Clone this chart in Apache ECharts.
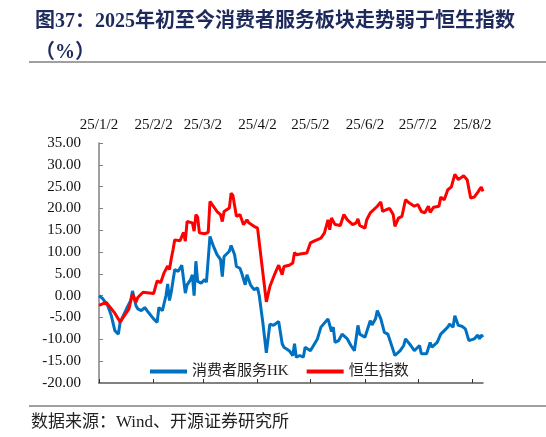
<!DOCTYPE html>
<html>
<head>
<meta charset="utf-8">
<script src="https://cdn.jsdelivr.net/npm/echarts@6.0.0/dist/echarts.min.js"></script>
<style>
html, body { margin: 0; padding: 0; background: #fff; }
#chart { width: 546px; height: 437px; }
</style>
</head>
<body>
<div id="chart"></div>
<script>
// 恒生指数
const hsiDates = ['2025-01-02', '2025-01-06', '2025-01-11', '2025-01-14', '2025-01-17', '2025-01-19', '2025-01-21', '2025-01-23', '2025-01-24', '2025-01-27',
    '2025-02-02', '2025-02-03', '2025-02-04', '2025-02-06', '2025-02-08', '2025-02-10', '2025-02-11', '2025-02-12', '2025-02-13', '2025-02-14',
    '2025-02-17', '2025-02-19', '2025-02-20', '2025-02-21', '2025-02-24', '2025-02-25', '2025-02-26', '2025-02-27', '2025-02-28', '2025-03-03',
    '2025-03-05', '2025-03-06', '2025-03-10', '2025-03-12', '2025-03-13', '2025-03-14', '2025-03-17', '2025-03-18', '2025-03-19', '2025-03-21',
    '2025-03-23', '2025-03-24', '2025-03-25', '2025-03-27', '2025-03-28', '2025-03-31', '2025-04-02', '2025-04-03', '2025-04-07', '2025-04-09',
    '2025-04-12', '2025-04-14', '2025-04-16', '2025-04-17', '2025-04-20', '2025-04-22', '2025-04-23', '2025-04-24', '2025-04-27', '2025-04-30',
    '2025-05-02', '2025-05-05', '2025-05-08', '2025-05-10', '2025-05-12', '2025-05-13', '2025-05-14', '2025-05-16', '2025-05-19', '2025-05-21',
    '2025-05-23', '2025-05-26', '2025-05-28', '2025-05-29', '2025-05-30', '2025-06-02', '2025-06-03', '2025-06-05', '2025-06-06', '2025-06-09',
    '2025-06-11', '2025-06-12', '2025-06-14', '2025-06-16', '2025-06-18', '2025-06-19', '2025-06-21', '2025-06-23', '2025-06-25', '2025-06-27',
    '2025-06-30', '2025-07-02', '2025-07-04', '2025-07-06', '2025-07-08', '2025-07-09', '2025-07-11', '2025-07-14', '2025-07-15', '2025-07-17',
    '2025-07-19', '2025-07-21', '2025-07-23', '2025-07-25', '2025-07-28', '2025-07-30', '2025-08-01', '2025-08-03', '2025-08-05', '2025-08-06',
    '2025-08-07', '2025-08-08']
const hsiValues = [-2.2, -1.5, -4.0, -6.0, -4.2, -3.0, 0.4, -1.5, -0.4, 0.8,
    0.5, 0.8, 3.4, 3.0, 5.3, 6.8, 6.0, 8.4, 10.5, 12.8,
    12.6, 14.5, 12.5, 17.0, 16.7, 14.8, 18.6, 18.0, 14.4, 14.2,
    14.5, 21.6, 19.3, 18.6, 17.0, 19.3, 20.1, 23.5, 23.0, 18.2,
    18.6, 19.0, 16.3, 17.4, 16.7, 15.9, 15.5, 15.1, -1.4, 2.1,
    5.2, 7.0, 4.8, 6.7, 7.0, 7.5, 9.9, 9.4, 9.6, 9.8,
    12.1, 12.7, 13.2, 14.4, 17.4, 15.1, 17.8, 16.3, 16.1, 18.6,
    17.4, 16.3, 16.7, 17.6, 16.1, 15.5, 17.4, 19.0, 18.6, 20.5,
    21.5, 19.3, 19.7, 20.0, 18.6, 15.9, 17.8, 18.2, 22.0, 21.3,
    20.5, 20.9, 19.3, 19.0, 20.5, 19.1, 20.3, 20.5, 22.6, 22.0,
    24.3, 24.9, 27.8, 26.6, 27.5, 26.6, 22.4, 22.6, 23.7, 24.3,
    24.9, 23.9]

// 消费者服务HK
const consDates = ['2025-01-02', '2025-01-04', '2025-01-07', '2025-01-09', '2025-01-11', '2025-01-13', '2025-01-14', '2025-01-18', '2025-01-20', '2025-01-21',
    '2025-01-23', '2025-01-24', '2025-01-26', '2025-01-28', '2025-01-30', '2025-02-02', '2025-02-04', '2025-02-05', '2025-02-07', '2025-02-09',
    '2025-02-10', '2025-02-11', '2025-02-12', '2025-02-14', '2025-02-16', '2025-02-18', '2025-02-20', '2025-02-21', '2025-02-23', '2025-02-24',
    '2025-02-25', '2025-02-26', '2025-02-27', '2025-03-01', '2025-03-03', '2025-03-04', '2025-03-06', '2025-03-08', '2025-03-10', '2025-03-12',
    '2025-03-13', '2025-03-14', '2025-03-17', '2025-03-18', '2025-03-20', '2025-03-21', '2025-03-23', '2025-03-24', '2025-03-26', '2025-03-27',
    '2025-03-29', '2025-03-31', '2025-04-02', '2025-04-03', '2025-04-05', '2025-04-07', '2025-04-09', '2025-04-11', '2025-04-14', '2025-04-16',
    '2025-04-17', '2025-04-20', '2025-04-22', '2025-04-23', '2025-04-24', '2025-04-26', '2025-04-28', '2025-04-29', '2025-05-02', '2025-05-06',
    '2025-05-08', '2025-05-12', '2025-05-14', '2025-05-15', '2025-05-16', '2025-05-18', '2025-05-20', '2025-05-23', '2025-05-25', '2025-05-27',
    '2025-05-29', '2025-05-30', '2025-06-02', '2025-06-05', '2025-06-06', '2025-06-08', '2025-06-09', '2025-06-11', '2025-06-13', '2025-06-15',
    '2025-06-16', '2025-06-19', '2025-06-22', '2025-06-24', '2025-06-25', '2025-06-28', '2025-06-30', '2025-07-03', '2025-07-04', '2025-07-07',
    '2025-07-09', '2025-07-10', '2025-07-13', '2025-07-15', '2025-07-17', '2025-07-19', '2025-07-20', '2025-07-22', '2025-07-23', '2025-07-25',
    '2025-07-27', '2025-07-29', '2025-07-31', '2025-08-03', '2025-08-05', '2025-08-06', '2025-08-07', '2025-08-08']
const consValues = [0.0, -0.6, -2.3, -4.6, -8.0, -8.8, -6.1, -2.7, -1.1, 1.1,
    -2.3, -3.0, -3.4, -2.7, -3.8, -5.3, -6.1, -2.7, -3.4, 0.0,
    2.7, -1.1, 0.8, 6.0, 5.6, 7.0, 0.6, 2.5, 3.7, 4.8,
    0.0, 7.9, 3.3, 2.9, 3.7, 3.1, 13.6, 11.3, 9.4, 8.3,
    4.4, 9.0, 10.2, 11.5, 9.4, 6.7, 6.3, 5.2, 2.5, 4.8,
    2.5, 1.4, 1.8, 0.0, -6.1, -13.1, -6.5, -6.8, -5.9, -11.0,
    -11.8, -12.6, -13.7, -11.0, -14.1, -13.7, -14.1, -11.8, -12.6, -9.9,
    -7.2, -5.3, -8.2, -7.2, -10.7, -10.3, -8.8, -9.9, -11.4, -12.6,
    -6.8, -8.8, -9.5, -5.7, -6.7, -5.3, -3.4, -5.3, -8.4, -8.8,
    -8.4, -13.7, -12.6, -11.4, -9.9, -11.4, -12.6, -11.4, -13.3, -13.3,
    -10.7, -11.8, -10.7, -8.8, -8.0, -7.2, -6.5, -7.2, -4.6, -6.8,
    -7.0, -7.6, -10.3, -9.9, -9.0, -9.9, -9.0, -9.5]

// 月度刻度
const tickDates = ['2025-01-02', '2025-02-02', '2025-03-02', '2025-04-02', '2025-05-02', '2025-06-02', '2025-07-02', '2025-08-02']
const tickLabels = ['25/1/2', '25/2/2', '25/3/2', '25/4/2', '25/5/2', '25/6/2', '25/7/2', '25/8/2']

const serif = '"Liberation Serif", "Times New Roman", "Noto Sans CJK SC", serif'
const toTime = d => echarts.time.parse(d).getTime()
const tickValues = tickDates.map(toTime)
const xMin = toTime('2025-01-02')
const xMax = toTime('2025-08-08')

var myChart = echarts.init(document.getElementById('chart'))
var option = {
    animation: false,
    title: {
        text: '图37：2025年初至今消费者服务板块走势弱于恒生指数\n（%）',
        left: 30,
        top: 1,
        textStyle: {
            fontFamily: serif,
            fontSize: 20,
            fontWeight: 'bold',
            color: '#1F2A5C',
            lineHeight: 31,
        },
    },
    legend: {
        left: 145,
        top: 359,
        itemWidth: 37,
        itemHeight: 4,
        itemGap: 18,
        icon: 'rect',
        textStyle: {
            fontFamily: serif,
            fontSize: 15,
            color: '#222',
        },
        data: ['消费者服务HK', '恒生指数'],
    },
    graphic: [
        {
            type: 'line',
            shape: { x1: 29, y1: 62, x2: 546, y2: 62 },
            style: { stroke: '#808080', lineWidth: 1.5 },
        },
        {
            type: 'line',
            shape: { x1: 29, y1: 406, x2: 546, y2: 406 },
            style: { stroke: '#808080', lineWidth: 1.5 },
        },
        {
            type: 'text',
            left: 31,
            top: 414,
            style: {
                text: '数据来源：Wind、开源证券研究所',
                font: '17px ' + serif,
                fill: '#222',
            },
        },
    ],
    grid: {
        left: 99,
        right: 63,
        top: 143,
        bottom: 54,
        containLabel: false,
    },
    xAxis: [
        {
            // 顶部日期标签
            type: 'value',
            position: 'top',
            min: xMin,
            max: xMax,
            axisLine: { show: false },
            axisTick: { show: false },
            splitLine: { show: false },
            axisLabel: {
                customValues: tickValues,
                formatter: v => tickLabels[tickValues.indexOf(v)] || '',
                fontFamily: serif,
                fontSize: 15,
                color: '#111',
                margin: 10,
                showMinLabel: true,
                showMaxLabel: true,
            },
        },
        {
            // 零轴
            type: 'value',
            position: 'bottom',
            min: xMin,
            max: xMax,
            axisLine: {
                onZero: true,
                lineStyle: { color: '#595959', width: 1.5 },
            },
            axisTick: {
                customValues: tickValues,
                inside: true,
                length: 4,
                lineStyle: { color: '#333', width: 1 },
            },
            axisLabel: { show: false },
            splitLine: { show: false },
        },
    ],
    yAxis: {
        type: 'value',
        min: -20,
        max: 35,
        interval: 5,
        axisLine: {
            show: true,
            lineStyle: { color: '#808080', width: 1.5 },
        },
        axisTick: {
            show: true,
            inside: true,
            length: 4,
            lineStyle: { color: '#808080' },
        },
        splitLine: { show: false },
        axisLabel: {
            formatter: v => v.toFixed(2),
            fontFamily: serif,
            fontSize: 15,
            color: '#111',
            margin: 18,
        },
    },
    series: [
        {
            name: '消费者服务HK',
            type: 'line',
            xAxisIndex: 0,
            showSymbol: false,
            color: '#0070C0',
            lineStyle: { width: 3, color: '#0070C0' },
            data: consDates.map((d, i) => [toTime(d), consValues[i]]),
            z: 3,
        },
        {
            name: '恒生指数',
            type: 'line',
            xAxisIndex: 0,
            showSymbol: false,
            color: '#FF0000',
            lineStyle: { width: 3, color: '#FF0000' },
            data: hsiDates.map((d, i) => [toTime(d), hsiValues[i]]),
            z: 4,
        },
    ],
}
myChart.setOption(option)
</script>
</body>
</html>
